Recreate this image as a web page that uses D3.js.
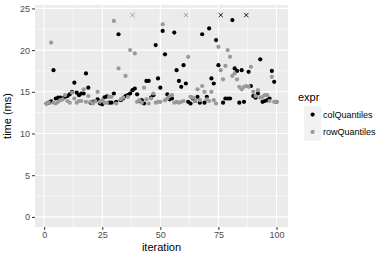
<!DOCTYPE html>
<html>
<head>
<meta charset="utf-8">
<script src="https://cdn.jsdelivr.net/npm/d3@7"></script>
<style>
  body { margin: 0; background: #fff; }
  text { font-family: "Liberation Sans", Arial, sans-serif; }
</style>
</head>
<body>
<svg id="chart" width="390" height="260"></svg>
<script>
// iteration 1..100
var iterations = d3.range(1, 101);
var seriesNames = ['colQuantiles', 'rowQuantiles'];
var seriesColors = ['#000000', '#999999'];

// time (ms); values above the plot limit are drawn as crosses at the top
var colQuantiles = [
  13.6, 13.7, 13.85, 17.6, 14.2, 14.3, 14.3, 14.2, 14.4, 14.5,
  14.7, 15.0, 16.1, 14.9, 14.6, 14.8, 14.8, 17.2, 15.5, 13.7,
  13.8, 13.9, 14.1, 13.6, 13.5, 14.35, 14.45, 13.7, 13.7, 14.8,
  13.8, 21.9, 14.0, 14.2, 14.5, 14.6, 14.8, 15.2, 15.4, 14.7,
  13.9, 14.0, 13.6, 16.3, 16.3, 14.3, 14.6, 20.6, 16.6, 15.5,
  22.3, 19.5, 14.7, 14.1, 14.2, 22.1, 17.6, 16.3, 15.6, 18.2,
  16.0, 13.8, 13.6, 14.2, 13.9, 14.4, 13.7, 21.9, 13.7, 14.4,
  22.6, 16.6, 16.0, 21.2, 18.2, 27.0, 13.7, 14.2, 14.2, 14.2,
  23.6, 17.8, 17.5, 13.7, 17.6, 13.8, 26.5, 17.4, 15.7, 14.5,
  14.3, 14.8, 18.9, 13.8, 13.9, 14.0, 14.2, 17.5, 16.2, 13.8
];
var rowQuantiles = [
  13.6, 13.7, 20.9, 13.7, 13.6, 13.8, 14.0, 14.1, 14.6, 13.9,
  13.7, 14.9, 14.2, 13.7, 13.9, 13.9, 15.3, 13.8, 14.5, 13.8,
  13.6, 13.9, 15.0, 13.8, 14.0, 13.7, 13.7, 14.4, 14.4, 23.5,
  13.6, 17.8, 14.1, 14.3, 16.9, 14.4, 20.0, 25.8, 19.6, 13.8,
  14.0, 13.7, 15.5, 14.1, 13.6, 14.2, 14.8, 13.7, 13.8, 13.8,
  23.1, 14.0, 14.2, 14.5, 14.6, 13.7, 13.8, 13.7, 13.8, 13.9,
  26.0, 19.2, 14.4, 14.3, 13.9, 15.3, 14.0, 15.7, 15.0, 14.1,
  13.9, 15.0, 14.0, 13.6, 20.4, 17.6, 16.5, 18.1, 20.0, 19.2,
  16.9, 17.2, 16.5, 15.6, 15.3, 15.6, 15.7, 15.6, 18.0, 15.0,
  14.5, 15.2, 14.3, 14.4, 14.6, 14.6, 13.9, 16.8, 13.8, 13.8
];
var yLimit = 24.2;
var xTicks = [0, 25, 50, 75, 100];
var yTicks = [0, 5, 10, 15, 20, 25];

var svg = d3.select('#chart');
var panel = { left: 35, top: 5, right: 288, bottom: 227 };

var xScale = d3.scaleLinear().domain([-3.95, 104.95]).range([panel.left, panel.right]);
var yScale = d3.scaleLinear().domain([-1.21, 25.41]).range([panel.bottom, panel.top]);

// panel background
svg.append('rect')
  .attr('x', panel.left).attr('y', panel.top)
  .attr('width', panel.right - panel.left).attr('height', panel.bottom - panel.top)
  .attr('fill', '#ebebeb');

// minor grid
var xMinor = [12.5, 37.5, 62.5, 87.5];
var yMinor = [2.5, 7.5, 12.5, 17.5, 22.5];
svg.selectAll('.xminor').data(xMinor).enter().append('line')
  .attr('x1', xScale).attr('x2', xScale)
  .attr('y1', panel.top).attr('y2', panel.bottom)
  .attr('stroke', '#fff').attr('stroke-width', 0.55);
svg.selectAll('.yminor').data(yMinor).enter().append('line')
  .attr('x1', panel.left).attr('x2', panel.right)
  .attr('y1', yScale).attr('y2', yScale)
  .attr('stroke', '#fff').attr('stroke-width', 0.55);

// major grid
svg.selectAll('.xmajor').data(xTicks).enter().append('line')
  .attr('x1', xScale).attr('x2', xScale)
  .attr('y1', panel.top).attr('y2', panel.bottom)
  .attr('stroke', '#fff').attr('stroke-width', 1.1);
svg.selectAll('.ymajor').data(yTicks).enter().append('line')
  .attr('x1', panel.left).attr('x2', panel.right)
  .attr('y1', yScale).attr('y2', yScale)
  .attr('stroke', '#fff').attr('stroke-width', 1.1);

// axes
var xAxis = d3.axisBottom(xScale).tickValues(xTicks).tickSize(3).tickPadding(2);
var yAxis = d3.axisLeft(yScale).tickValues(yTicks).tickSize(3).tickPadding(2);

var gx = svg.append('g').attr('transform', 'translate(0,' + panel.bottom + ')').call(xAxis);
var gy = svg.append('g').attr('transform', 'translate(' + panel.left + ',0)').call(yAxis);
[gx, gy].forEach(function(g){
  g.select('.domain').remove();
  g.selectAll('.tick line').attr('stroke', '#333333');
  g.selectAll('.tick text').attr('fill', '#4d4d4d').style('font-size', '9px');
});

// axis titles
svg.append('text')
  .attr('x', (panel.left + panel.right) / 2).attr('y', 251)
  .attr('text-anchor', 'middle').style('font-size', '11px').text('iteration');
svg.append('text')
  .attr('transform', 'translate(11,' + (panel.top + panel.bottom) / 2 + ') rotate(-90)')
  .attr('text-anchor', 'middle').style('font-size', '11px').text('time (ms)');

// points
var allSeries = [colQuantiles, rowQuantiles];
allSeries.forEach(function(values, s){
  var pts = values.map(function(v, i){ return { x: iterations[i], y: v }; });
  var g = svg.append('g');
  g.selectAll('circle').data(pts.filter(function(d){ return d.y <= yLimit; })).enter()
    .append('circle')
    .attr('cx', function(d){ return xScale(d.x); })
    .attr('cy', function(d){ return yScale(d.y); })
    .attr('r', 2.1)
    .attr('fill', seriesColors[s]);
  g.selectAll('path').data(pts.filter(function(d){ return d.y > yLimit; })).enter()
    .append('path')
    .attr('d', function(d){
      var cx = xScale(d.x), cy = yScale(yLimit), k = 2.2;
      return 'M' + (cx - k) + ',' + (cy - k) + 'L' + (cx + k) + ',' + (cy + k) +
             'M' + (cx - k) + ',' + (cy + k) + 'L' + (cx + k) + ',' + (cy - k);
    })
    .attr('stroke', seriesColors[s]).attr('stroke-width', 0.9).attr('fill', 'none');
});

// legend
var legend = svg.append('g').attr('transform', 'translate(298,0)');
legend.append('text').attr('x', 0).attr('y', 101).style('font-size', '11px').text('expr');
seriesNames.forEach(function(name, i){
  var y0 = 106 + i * 17.3;
  legend.append('rect').attr('x', 6).attr('y', y0).attr('width', 17.3).attr('height', 17.3)
    .attr('fill', '#f2f2f2');
  legend.append('circle').attr('cx', 14.6).attr('cy', y0 + 8.6).attr('r', 2.1)
    .attr('fill', seriesColors[i]);
  legend.append('text').attr('x', 25).attr('y', y0 + 12)
    .style('font-size', '9px').attr('fill', '#000').text(name);
});
</script>
</body>
</html>
